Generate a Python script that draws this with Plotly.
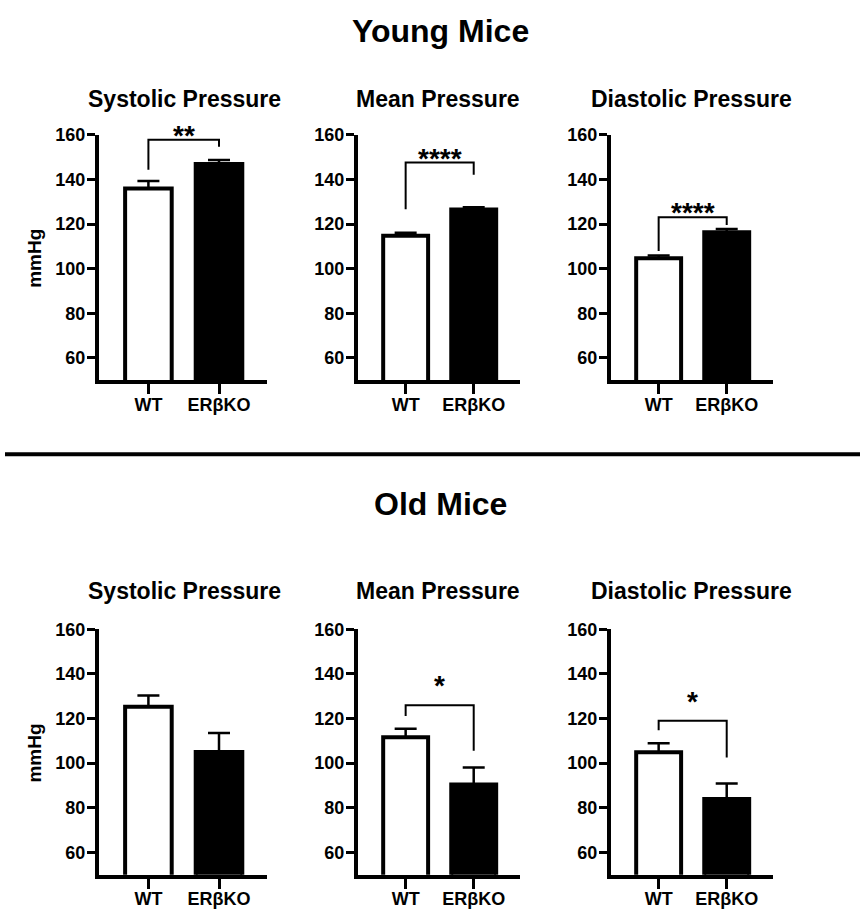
import plotly.graph_objects as go

# ---------------- data ----------------
groups = ["WT", "ERβKO"]
panel_titles = ["Systolic Pressure", "Mean Pressure", "Diastolic Pressure"]
row_titles = ["Young Mice", "Old Mice"]
y_ticks = [60, 80, 100, 120, 140, 160]
y_label = "mmHg"

young_means = [[136.0, 147.0], [114.8, 126.6], [104.7, 116.4]]
young_errs = [[3.3, 1.8], [1.3, 1.0], [1.3, 1.4]]
old_means = [[125.3, 105.0], [111.6, 90.4], [104.9, 84.0]]
old_errs = [[5.0, 8.5], [3.8, 7.7], [4.0, 6.9]]

# significance brackets: (left foot, top, right foot) or None, and star label
young_brackets = [(144.4, 157.8, 154.7), (126.7, 147.6, 142.2), (108.0, 123.1, 119.6)]
young_stars = ["**", "****", "****"]
old_brackets = [None, (121.2, 126.0, 105.6), (114.8, 119.0, 102.5)]
old_stars = ["", "*", "*"]

# ---------------- layout constants ----------------
W, H = 860, 909
FONT = "Arial, Liberation Sans, Helvetica, sans-serif"


def py(v):
    # target pixel row -> figure pixel row (compensates page offset)
    return (v - 7) / 0.992


x_domains_px = [(99, 267), (358, 520), (611, 773)]
y_domains_px = [(py(133), py(380.5)), (py(631.7), py(879.2))]
title_x_px = [184, 438, 691]
title_y_px = [py(97), py(593)]
row_title_y_px = [py(28), py(505)]
ylabel_y_px = [py(258), py(757)]
sep_y_px = py(455)
star_shift = [-13, 2]

fig = go.Figure()

rows = [(young_means, young_errs, young_brackets, young_stars),
        (old_means, old_errs, old_brackets, old_stars)]

ax = 0
for r, (means, errs, brackets, stars) in enumerate(rows):
    for c in range(3):
        ax += 1
        xa = "x" if ax == 1 else f"x{ax}"
        ya = "y" if ax == 1 else f"y{ax}"
        xkey = "xaxis" if ax == 1 else f"xaxis{ax}"
        ykey = "yaxis" if ax == 1 else f"yaxis{ax}"
        for g in range(2):
            fig.add_trace(go.Bar(
                x=[g], y=[means[c][g]], xaxis=xa, yaxis=ya,
                width=0.66,
                marker=dict(color="white" if g == 0 else "black",
                            line=dict(color="black", width=4)),
                error_y=dict(type="data", symmetric=False,
                             array=[errs[c][g]], arrayminus=[0],
                             color="black", thickness=2.5, width=11),
                showlegend=False, hoverinfo="skip",
            ))
        x0, x1 = x_domains_px[c]
        y0, y1 = y_domains_px[r]
        fig.layout[xkey] = dict(
            domain=[x0 / W, x1 / W], anchor=ya, range=[-0.7, 1.68],
            tickmode="array", tickvals=[0, 1], ticktext=groups,
            showline=True, linewidth=4, linecolor="black",
            ticks="outside", ticklen=10, tickwidth=3, tickcolor="black",
            ticklabelstandoff=-5,
            showgrid=False, zeroline=False, fixedrange=True,
            tickfont=dict(family=FONT, size=18, color="black", weight="bold"),
        )
        fig.layout[ykey] = dict(
            domain=[1 - y1 / H, 1 - y0 / H], anchor=xa, range=[50, 160],
            tickmode="array", tickvals=y_ticks,
            showline=True, linewidth=4, linecolor="black",
            ticks="outside", ticklen=8, tickwidth=3, tickcolor="black",
            ticklabelstandoff=-2,
            showgrid=False, zeroline=False, fixedrange=True,
            tickfont=dict(family=FONT, size=18, color="black", weight="bold"),
        )
        # panel title
        fig.add_annotation(
            text=f"<b>{panel_titles[c]}</b>", xref="paper", yref="paper",
            x=title_x_px[c] / W, y=1 - title_y_px[r] / H, showarrow=False,
            font=dict(family=FONT, size=23, color="black"),
            xanchor="center", yanchor="middle",
        )
        b = brackets[c]
        if b is not None:
            fig.add_shape(type="path",
                          path=f"M 0,{b[0]} L 0,{b[1]} L 1,{b[1]} L 1,{b[2]}",
                          xref=xa, yref=ya,
                          line=dict(color="black", width=2))
            fig.add_annotation(text=f"<b>{stars[c]}</b>", xref=xa, yref=ya,
                               x=0.5, y=b[1], showarrow=False,
                               xanchor="center", yanchor="bottom",
                               yshift=star_shift[r],
                               font=dict(family=FONT, size=28, color="black"))
    # mmHg label
    fig.add_annotation(text=f"<b>{y_label}</b>", xref="paper", yref="paper",
                       x=35 / W, y=1 - ylabel_y_px[r] / H, showarrow=False,
                       textangle=-90, xanchor="center", yanchor="middle",
                       font=dict(family=FONT, size=19, color="black"))
    # row title
    fig.add_annotation(text=f"<b>{row_titles[r]}</b>", xref="paper", yref="paper",
                       x=440 / W, y=1 - row_title_y_px[r] / H, showarrow=False,
                       font=dict(family=FONT, size=32, color="black"),
                       xanchor="center", yanchor="middle")

# separator line
fig.add_shape(type="line", xref="paper", yref="paper",
              x0=5 / W, x1=1, y0=1 - sep_y_px / H, y1=1 - sep_y_px / H,
              line=dict(color="black", width=4))

fig.update_layout(
    width=W, height=H, margin=dict(l=0, r=0, t=0, b=0),
    paper_bgcolor="white", plot_bgcolor="white",
    barmode="overlay", showlegend=False,
    font=dict(family=FONT, color="black"),
)

fig.write_html(
    "out.html",
    config={"responsive": False, "displayModeBar": False},
    post_script="document.body.style.margin='0';document.body.style.overflow='hidden';",
)
